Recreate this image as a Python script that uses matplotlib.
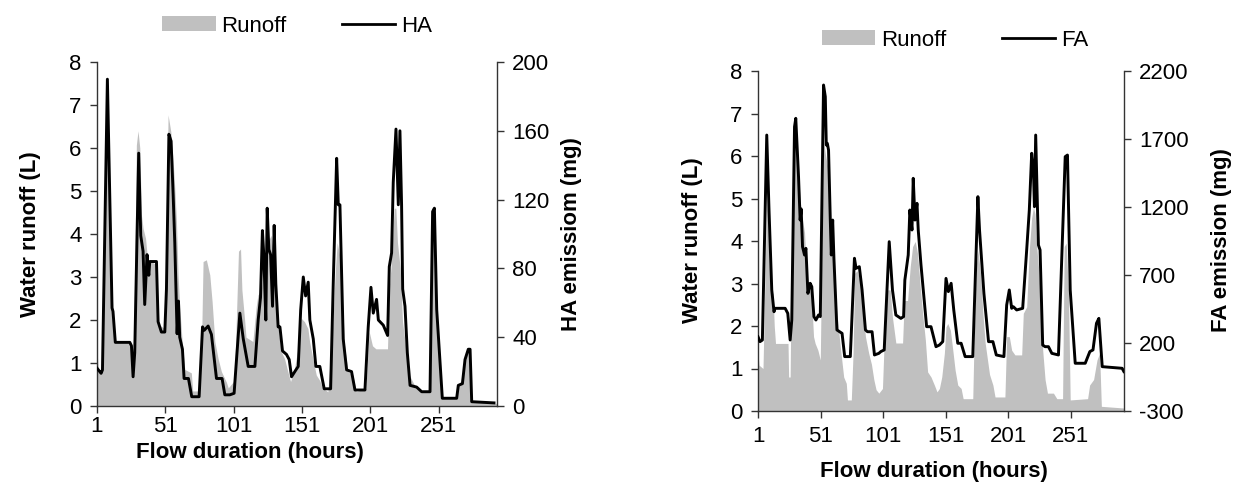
import matplotlib
matplotlib.use("Agg")
import matplotlib.pyplot as plt
from matplotlib.patches import Patch
from matplotlib.lines import Line2D

plt.rcParams['font.family'] = ['Liberation Sans', 'DejaVu Sans']
plt.rcParams['font.size'] = 16
plt.rcParams['axes.unicode_minus'] = False

# ---------------- data: left panel (runoff + HA) ----------------
runoff1_h = [1, 2, 5, 6, 7, 8.5, 10, 11.5, 12.5, 14, 25, 26.5, 27.4, 28.6, 29.8, 31, 32.3, 33.5, 34.7, 36.5, 38, 45,
             45.7, 50.6, 51.8, 53, 55, 56.7, 57.9, 59.1, 60.3, 61.5, 63.3, 65.2, 70, 71, 76, 77.5, 78.6, 81, 83.5, 85.2,
             87.2, 89.6, 92, 95.7, 97, 101.6, 102.8, 104.5, 106, 107, 109, 110, 115, 117.4, 118.7, 121.1, 123.5, 126,
             128.4, 130.4, 132.1, 133.3, 135.7, 138.2, 140.6, 142.6, 145.5, 148, 150.4, 152.8, 155.3, 156.5, 158.9,
             161.4, 163.8, 166.2, 169.9, 173.6, 175.3, 176.7, 178.5, 180.2, 182.1, 184.5, 188.2, 190.6, 197.7, 200.1,
             202.5, 205, 213.5, 214.7, 216, 218.4, 219.6, 220.8, 222.8, 224.5, 227, 229.4, 233, 237.9, 244, 245.2,
             246.5, 248.2, 250.1, 252.6, 263.5, 264.8, 267.2, 269.6, 272.1, 273.5, 274.5, 293.5]
runoff1_L = [1.3, 0.8, 0.85, 2.5, 6.0, 7.5, 5.0, 3.0, 2.3, 1.5, 1.5, 1.0, 0.7, 3.1, 6.07, 6.4, 6.0, 4.44, 4.13, 3.9, 3.4,
             3.28, 1.9, 1.8, 4.3, 6.77, 6.38, 5.7, 5.06, 4.3, 3.05, 2.3, 1.5, 0.85, 0.77, 0.35, 0.35, 1.5, 3.36, 3.4,
             3.05, 2.43, 1.5, 1.1, 0.8, 0.55, 0.42, 0.6, 1.88, 3.6, 3.65, 2.7, 2.0, 1.6, 1.5, 2.3, 2.58, 2.7, 3.2, 3.82,
             3.97, 3.36, 2.6, 1.88, 1.27, 1.1, 0.8, 0.57, 0.88, 1.34, 2.04, 1.96, 1.8, 1.5, 1.1, 0.72, 0.6, 0.41, 0.33,
             1.96, 3.13, 3.8, 3.5, 2.7, 1.4, 0.8, 0.72, 0.33, 0.41, 1.73, 1.4, 1.33, 1.33, 2.74, 3.2, 4.6, 4.6, 3.8,
             3.2, 1.96, 1.33, 0.72, 0.5, 0.33, 0.33, 3.36, 4.45, 3.5, 1.6, 0.18, 0.18, 0.5, 0.57, 1.04, 1.33, 1.3, 0.1,
             0.06]

ha_h = [1, 3, 4, 5, 8.6, 12, 12.7, 14.4, 25, 26.2, 27.4, 28.6, 31.5, 33, 34.7, 35.9, 37.6, 38.9, 39.6, 44.5, 45.7,
        48.1, 50.6, 51.8, 53.6, 55.2, 56.7, 57.9, 59.6, 60.6, 61.5, 63.5, 64.7, 67.9, 70.3, 75.7, 78.2, 79.4, 82.3,
        84.7, 88.4, 92.5, 94.5, 98.2, 101.3, 102.5, 105.5, 108, 111.6, 116.5, 118.9, 120.6, 122, 123, 124.5, 125.5,
        126.7, 128, 129.4, 130.6, 131.8, 133.5, 134.8, 136.7, 139.6, 141.6, 143.3, 146.5, 148.2, 150, 151.9, 153.6,
        155.5, 156.7, 159.2, 161.1, 164, 167.2, 171.9, 173.8, 176.3, 177.5, 178.7, 181.1, 183.6, 187.2, 189.7, 197,
        199.4, 201.4, 203.1, 205.5, 206.8, 210.4, 213.6, 214.8, 216.5, 217.7, 219.7, 221.4, 222.6, 223.8, 224.6,
        226.3, 228, 230, 234.8, 238.5, 244.6, 246.5, 247.8, 249.5, 253.6, 264.1, 265.3, 268.3, 270.2, 272.6, 273.9,
        275.1, 291.4]
ha_mg = [22, 20, 19, 21, 190, 57, 55, 37, 37, 35, 17, 31, 147, 99, 90, 59, 88, 76, 84, 84, 49, 43, 43, 68, 158, 154,
         123, 95, 42, 61, 40, 33, 16, 16, 5.4, 5.4, 46, 44, 46.5, 41.6, 16, 16, 6.5, 6.5, 7.4, 21, 54, 39, 23, 23, 50,
         63, 102, 88, 50, 115, 91, 88, 58, 105, 71, 46, 46, 32, 30, 27, 17, 21, 23, 56, 75, 64, 72, 50, 39, 23, 23,
         10, 10, 71, 144, 117, 117, 39, 21, 20, 9.3, 9.3, 46, 69, 54, 62, 50, 47, 41, 81, 89, 130, 161, 117, 160,
         117, 68, 58, 31, 12, 11, 8.3, 8.3, 113, 115, 56, 4.5, 4.5, 12, 13, 27, 33, 33, 2.5, 1.8]

# ---------------- data: right panel (runoff + FA) ----------------
runoff2_h = [1, 1.8, 5, 6.5, 8, 9, 10, 11, 13, 14, 15, 25, 25.5, 26.7, 27.5, 29.4, 30.7, 32.8, 34.7, 36, 38.2, 40,
             41.9, 43.5, 45.4, 46.7, 48.9, 50.8, 52.1, 53.4, 54.8, 56.1, 57.4, 58.8, 60.1, 62.3, 64.1, 66.8, 69.5,
             71.6, 72.5, 75.6, 77, 78.3, 80.2, 82.3, 84.2, 86.9, 89.5, 91.7, 93.6, 95.4, 97.6, 100.5, 102.4, 104.5,
             106.7, 108.5, 111.2, 116.6, 117.9, 120.6, 122.7, 124.6, 126.7, 128.6, 130.7, 132.6, 134.8, 136.6, 139.3,
             142, 144.1, 146, 147.9, 150, 151.3, 152.7, 154.8, 156.7, 158.6, 160.7, 163.4, 165, 172.7, 173.5, 175.4,
             176.8, 178.9, 180.8, 182.6, 186.1, 188.8, 190.5, 198.4, 199.8, 201.9, 203.8, 206.4, 211.8, 213.1, 215.8,
             217.9, 219.8, 221.2, 222.5, 223.8, 225.2, 227, 228.6, 230.5, 232.4, 237.2, 239.9, 244.5, 245.8, 247.4,
             249.2, 250.6, 264.5, 266.1, 269.3, 272, 274.1, 275.5, 293.5]
runoff2_L = [1.36, 1.08, 1.0, 3.0, 5.0, 4.5, 3.5, 2.8, 2.77, 2.0, 1.59, 1.59, 0.8, 0.8, 2.95, 6.06, 6.5, 5.9, 4.96,
             4.6, 4.2, 3.08, 3.0, 2.85, 1.75, 1.59, 1.43, 1.2, 4.0, 6.37, 6.06, 5.83, 5.67, 4.5, 3.87, 3.24, 2.3, 1.51,
             0.8, 0.65, 0.26, 0.26, 1.36, 3.24, 3.3, 3.1, 2.6, 1.75, 1.36, 1.1, 0.74, 0.5, 0.42, 0.53, 2.06, 2.85,
             2.85, 2.2, 1.6, 1.6, 2.6, 2.6, 3.4, 3.87, 3.99, 3.7, 2.93, 2.3, 1.67, 0.92, 0.8, 0.61, 0.45, 0.53, 0.8,
             1.36, 1.98, 2.06, 1.9, 1.44, 0.96, 0.61, 0.53, 0.29, 0.29, 1.36, 3.4, 3.78, 3.24, 2.3, 1.6, 0.86, 0.61,
             0.33, 0.33, 1.75, 1.75, 1.43, 1.32, 1.32, 2.3, 2.45, 3.8, 4.55, 4.8, 4.63, 3.87, 3.4, 2.55, 1.43, 0.74,
             0.42, 0.42, 0.29, 0.29, 3.87, 3.95, 2.77, 0.26, 0.29, 0.61, 0.74, 1.2, 1.36, 0.11, 0.07]

fa_h = [1, 2.6, 4.5, 8, 9.8, 12, 13.8, 14.6, 22.7, 24.8, 26.7, 28, 30.2, 31.2, 33.4, 34.7, 35.5, 36.6, 38.2, 39.3,
        40.9, 42.7, 44, 45.7, 47.3, 49.4, 50.8, 53.4, 54.8, 55.6, 56.4, 57.4, 58.8, 59.6, 60.7, 61.7, 64.1, 68.2,
        70.3, 74.8, 78.1, 79.4, 82, 84.2, 86.9, 88.5, 92.2, 94.1, 97.6, 99.2, 101.9, 105.9, 108.5, 111.2, 115.2,
        117.4, 118.4, 121.1, 122.4, 124.1, 125.1, 126.5, 128.1, 129.1, 131.3, 135.8, 139.3, 143.3, 146, 148.7,
        151.3, 153.2, 155.4, 157.5, 160.7, 163.4, 166.6, 172.7, 176.8, 178.1, 181.6, 185.3, 188.8, 191.5, 197.6,
        199.8, 201.9, 203.8, 205.1, 207.8, 212.6, 215.8, 217.9, 219.8, 221.2, 222, 223, 224.4, 225.2, 226.5, 228.6,
        230.5, 233.2, 235.9, 241.2, 246.6, 248.4, 250.6, 254.6, 262.6, 266.3, 268.8, 271.6, 273.5, 276.2, 292.1,
        293.5]
fa_mg = [246, 210, 222, 1729, 1178, 590, 430, 455, 455, 418, 222, 369, 1790, 1852, 1423, 1104, 1186, 908, 847, 896,
         565, 639, 614, 394, 369, 406, 394, 2097, 2011, 1656, 1668, 1619, 1104, 847, 1104, 823, 296, 271, 100, 100,
         823, 749, 761, 590, 296, 283, 283, 112, 124, 137, 149, 945, 590, 406, 381, 394, 663, 847, 1178, 1031,
         1411, 1104, 1227, 1031, 774, 320, 320, 173, 185, 210, 675, 578, 639, 443, 198, 198, 100, 100, 1276, 1031,
         565, 210, 210, 112, 100, 479, 590, 455, 467, 443, 455, 884, 1178, 1595, 1472, 1202, 1729, 1202, 920, 884,
         185, 173, 173, 124, 112, 1570, 1582, 590, 51, 51, 137, 149, 345, 381, 26, 14, -10]

xticks = [1, 51, 101, 151, 201, 251]

GRAY = '#c0c0c0'
AXC = '#333333'
W, H = 1247, 490

fig = plt.figure(figsize=(W / 100, H / 100), dpi=100)


def px_rect(x0, x1, y0, y1):
    return [x0 / W, 1 - y1 / H, (x1 - x0) / W, (y1 - y0) / H]


def style(ax, xpad):
    for s in ['left', 'right', 'bottom']:
        ax.spines[s].set_color(AXC)
        ax.spines[s].set_linewidth(1.0)
    ax.spines['top'].set_visible(False)
    ax.tick_params(axis='y', direction='out', length=5, width=1, color=AXC, labelsize=16, pad=6)
    ax.tick_params(axis='x', direction='out', length=5, width=1, color=AXC, labelsize=16, pad=xpad)


def panel(rect, rh, rv, lh, lv, y2lim, y2ticks, y2label, lname, xlab_px, ylab_px, y2lab_px, legend_px, xpad):
    ax = fig.add_axes(px_rect(*rect))
    ax2 = ax.twinx()
    ax.fill_between(rh, rv, 0, color=GRAY, linewidth=0, zorder=1)
    ax2.plot(lh, lv, color='black', linewidth=2.1, zorder=3)
    ax.set_xlim(1, 293.6)
    ax.set_ylim(0, 8)
    ax.set_yticks(range(0, 9))
    ax.set_xticks(xticks)
    ax2.set_ylim(*y2lim)
    ax2.set_yticks(y2ticks)
    style(ax, xpad)
    style(ax2, xpad)
    ax.spines['right'].set_visible(False)
    ax2.spines['left'].set_visible(False)
    ax2.spines['bottom'].set_visible(False)
    ax2.spines['right'].set_visible(True)
    fig.text(xlab_px[0] / W, 1 - xlab_px[1] / H, 'Flow duration (hours)', ha='center', va='center',
             fontsize=16, fontweight='bold')
    fig.text(ylab_px[0] / W, 1 - ylab_px[1] / H, 'Water runoff (L)', ha='center', va='center',
             rotation=90, fontsize=16, fontweight='bold')
    fig.text(y2lab_px[0] / W, 1 - y2lab_px[1] / H, y2label, ha='center', va='center',
             rotation=90, fontsize=16, fontweight='bold')
    handles = [Patch(facecolor=GRAY, edgecolor='none'), Line2D([0], [0], color='black', linewidth=2)]
    fig.legend(handles, ['Runoff', lname], loc='center', ncol=2, frameon=False,
               bbox_to_anchor=(legend_px[0] / W, 1 - legend_px[1] / H), fontsize=16,
               handlelength=2.4, handletextpad=0.25, columnspacing=2.5, handleheight=0.65)
    return ax, ax2


panel((97, 497, 62, 406), runoff1_h, runoff1_L, ha_h, ha_mg, (0, 200), [0, 40, 80, 120, 160, 200],
      'HA emissiom (mg)', 'HA', (250, 452), (31, 234), (572, 234), (297, 26), 2)

panel((758, 1124, 71, 411), runoff2_h, runoff2_L, fa_h, fa_mg, (-300, 2200), [-300, 200, 700, 1200, 1700, 2200],
      'FA emission (mg)', 'FA', (934, 471), (692, 240), (1222, 240), (955, 40), 6)

fig.savefig('out.png', dpi=100)
